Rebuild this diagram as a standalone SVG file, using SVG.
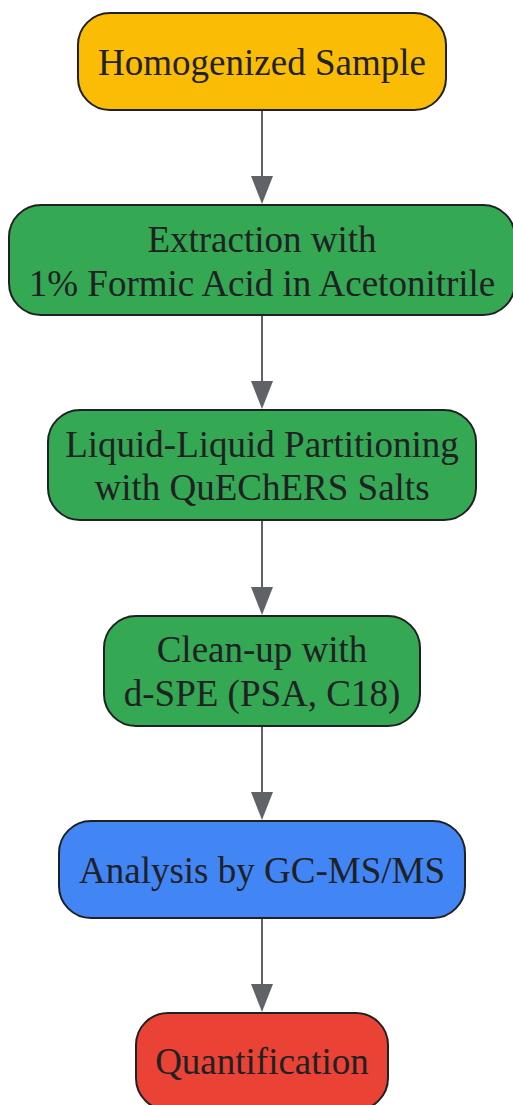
<svg xmlns="http://www.w3.org/2000/svg" width="513" height="1105" viewBox="0 0 513 1105">
<style>
.n rect{stroke:#202124;stroke-width:2}
.n text{font-family:"Liberation Serif","Times New Roman",serif;font-size:37px;fill:#202124;text-anchor:middle}
.e line{stroke:#5F6368;stroke-width:2}
</style>
<rect width="513" height="1105" fill="#ffffff"/>
<g id="connectors" class="e">
<line x1="262" y1="110" x2="262" y2="180"/>
<line x1="262" y1="315" x2="262" y2="385"/>
<line x1="262" y1="520" x2="262" y2="591"/>
<line x1="262" y1="726" x2="262" y2="796"/>
<line x1="262" y1="918" x2="262" y2="988"/>
</g>
<g id="arrowheads" fill="#5F6368">
<path d="M251,176 L273,176 L262,204 Z"/>
<path d="M251,381 L273,381 L262,409 Z"/>
<path d="M251,587 L273,587 L262,615 Z"/>
<path d="M251,792 L273,792 L262,820 Z"/>
<path d="M251,984 L273,984 L262,1012 Z"/>
</g>
<g id="node1" class="n">
<rect x="78" y="13" width="368" height="97" rx="32" fill="#FBBC05"/>
<text x="262" y="75">Homogenized Sample</text>
</g>
<g id="node2" class="n">
<rect x="9" y="205" width="506" height="110" rx="32" fill="#34A853"/>
<text x="262" y="252">Extraction with</text>
<text x="262" y="296">1% Formic Acid in Acetonitrile</text>
</g>
<g id="node3" class="n">
<rect x="48" y="410" width="428" height="110" rx="32" fill="#34A853"/>
<text x="262" y="457">Liquid-Liquid Partitioning</text>
<text x="262" y="500">with QuEChERS Salts</text>
</g>
<g id="node4" class="n">
<rect x="104" y="616" width="316" height="110" rx="32" fill="#34A853"/>
<text x="262" y="662">Clean-up with</text>
<text x="262" y="706">d-SPE (PSA, C18)</text>
</g>
<g id="node5" class="n">
<rect x="59" y="821" width="406" height="97" rx="32" fill="#4285F4"/>
<text x="262" y="883">Analysis by GC-MS/MS</text>
</g>
<g id="node6" class="n">
<rect x="136" y="1013" width="252" height="97" rx="32" fill="#EA4335"/>
<text x="262" y="1074">Quantification</text>
</g>
</svg>
